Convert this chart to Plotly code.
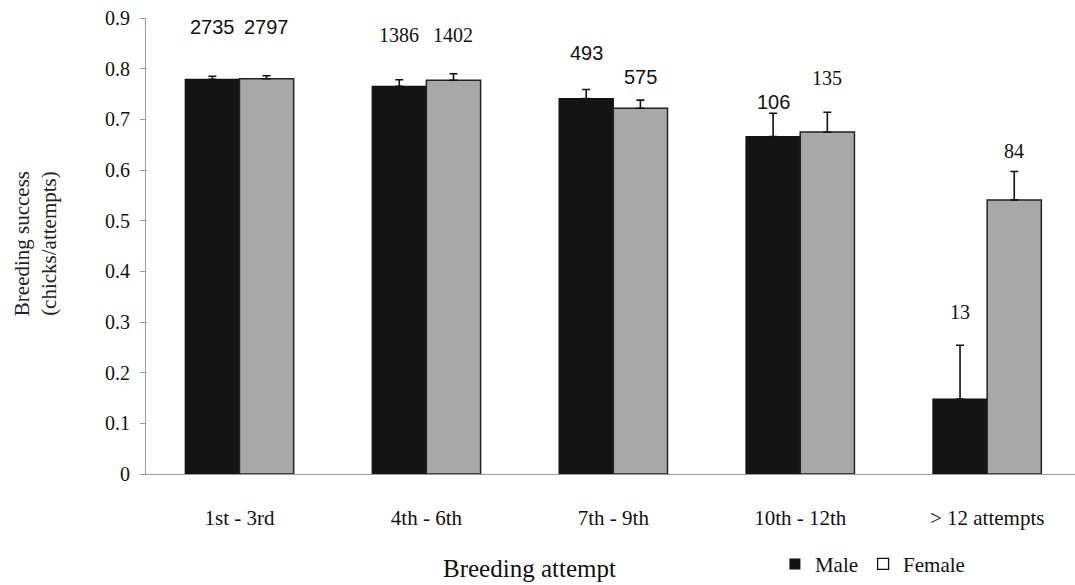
import plotly.graph_objects as go

categories = ["1st - 3rd", "4th - 6th", "7th - 9th", "10th - 12th", "> 12 attempts"]
male = [0.779, 0.765, 0.741, 0.666, 0.148]
female = [0.780, 0.777, 0.722, 0.675, 0.541]
male_err = [0.006, 0.013, 0.018, 0.046, 0.106]
female_err = [0.006, 0.013, 0.016, 0.039, 0.056]
male_n = ["2735", "1386", "493", "106", "13"]
female_n = ["2797", "1402", "575", "135", "84"]
y_ticks = [0, 0.1, 0.2, 0.3, 0.4, 0.5, 0.6, 0.7, 0.8, 0.9]
y_tick_text = ["0", "0.1", "0.2", "0.3", "0.4", "0.5", "0.6", "0.7", "0.8", "0.9"]

# label styling (pixel offsets above the error-bar caps, and fonts)
male_gap = [49, 45, 36, 11, 33]
female_gap = [49, 39, 23, 34, 21]
sans = "Liberation Sans"
serif = "Liberation Serif"
male_font = [sans, serif, sans, sans, serif]
female_font = [sans, serif, sans, serif, serif]

BLACK = "#141414"
GRAY = "#a8a8a8"

fig = go.Figure()
fig.add_trace(go.Bar(
    x=categories, y=male, name="Male", showlegend=False,
    marker=dict(color=BLACK, line=dict(color="#111111", width=1.2)),
    error_y=dict(type="data", array=male_err, arrayminus=[0] * len(male),
                 symmetric=False, color="#111111", thickness=1.6, width=4),
))
fig.add_trace(go.Bar(
    x=categories, y=female, name="Female", showlegend=False,
    marker=dict(color=GRAY, line=dict(color="#222222", width=1.5)),
    error_y=dict(type="data", array=female_err, arrayminus=[0] * len(female),
                 symmetric=False, color="#111111", thickness=1.6, width=4),
))
# legend proxies
fig.add_trace(go.Scatter(x=[None], y=[None], mode="markers", name="Male",
                         marker=dict(symbol="square", size=11, color="#111111")))
fig.add_trace(go.Scatter(x=[None], y=[None], mode="markers", name="Female",
                         marker=dict(symbol="square-open", size=11, color="#111111",
                                     line=dict(width=1.3))))

annotations = []
bar_px = 27
for i, c in enumerate(categories):
    annotations.append(dict(x=c, y=male[i] + male_err[i], xref="x", yref="y",
                            text=male_n[i], showarrow=False, xshift=-bar_px,
                            yshift=male_gap[i], yanchor="middle",
                            font=dict(family=male_font[i], size=20, color="#111111")))
    annotations.append(dict(x=c, y=female[i] + female_err[i], xref="x", yref="y",
                            text=female_n[i], showarrow=False, xshift=bar_px,
                            yshift=female_gap[i], yanchor="middle",
                            font=dict(family=female_font[i], size=20, color="#111111")))
annotations.append(dict(x=-0.119, y=0.505, xref="paper", yref="paper",
                        text="Breeding success<br>(chicks/attempts)", textangle=-90,
                        showarrow=False, xanchor="center", yanchor="middle",
                        font=dict(family=serif, size=21, color="#222222")))
annotations.append(dict(x=0.413, y=-0.207, xref="paper", yref="paper",
                        text="Breeding attempt", showarrow=False,
                        xanchor="center", yanchor="middle",
                        font=dict(family=serif, size=25, color="#111111")))

fig.update_layout(
    width=1075, height=585,
    margin=dict(l=146, r=0, t=18, b=108),
    paper_bgcolor="white", plot_bgcolor="white",
    barmode="group", bargap=0.42, bargroupgap=0,
    font=dict(family=serif, size=19, color="#111111"),
    annotations=annotations,
    legend=dict(orientation="h", x=0.677, y=-0.198, xanchor="left", yanchor="middle",
                font=dict(family=serif, size=21, color="#111111"),
                itemwidth=30, tracegroupgap=0, bgcolor="rgba(0,0,0,0)"),
    xaxis=dict(range=[-0.5, 4.47], showline=True, linecolor="#9a9a9a", linewidth=1.2,
               ticks="", showgrid=False, zeroline=False,
               ticklabelstandoff=25, tickfont=dict(family=serif, size=21, color="#111111")),
    yaxis=dict(range=[0, 0.9], tickvals=y_ticks, ticktext=y_tick_text,
               showline=True, linecolor="#9a9a9a", linewidth=1.2,
               ticks="outside", ticklen=5, tickcolor="#9a9a9a",
               showgrid=False, zeroline=False, ticklabelstandoff=6,
               tickfont=dict(family=serif, size=20, color="#111111")),
)

fig.write_html("out.html")
